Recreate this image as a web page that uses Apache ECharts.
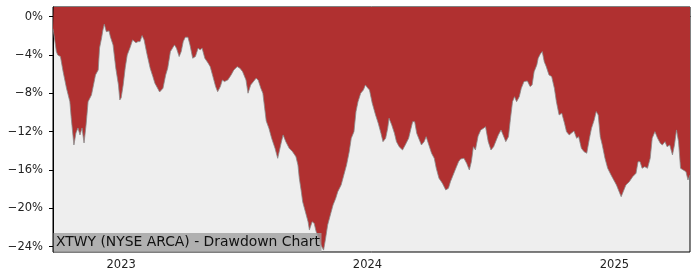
<!DOCTYPE html>
<html>
<head>
<meta charset="utf-8">
<script src="https://cdn.jsdelivr.net/npm/echarts@6/dist/echarts.min.js"></script>
<style>html,body{margin:0;padding:0;background:#fff}#c{width:700px;height:280px}</style>
</head>
<body>
<div id="c"></div>
<script>
const dates = [
'2022-09-22','2022-09-23','2022-09-27','2022-09-29','2022-10-03','2022-10-07','2022-10-12','2022-10-17','2022-10-19','2022-10-23',
'2022-10-26','2022-10-29','2022-11-01','2022-11-04','2022-11-07','2022-11-10','2022-11-13','2022-11-18','2022-11-21','2022-11-24',
'2022-11-28','2022-11-30','2022-12-03','2022-12-05','2022-12-07','2022-12-10','2022-12-14','2022-12-16','2022-12-20','2022-12-24',
'2022-12-28','2022-12-30','2023-01-01','2023-01-04','2023-01-07','2023-01-10','2023-01-14','2023-01-18','2023-01-20','2023-01-23',
'2023-01-26','2023-01-29','2023-02-01','2023-02-04','2023-02-08','2023-02-13','2023-02-17','2023-02-20','2023-02-27','2023-03-04',
'2023-03-08','2023-03-11','2023-03-15','2023-03-18','2023-03-21','2023-03-24','2023-03-28','2023-03-31','2023-04-03','2023-04-06',
'2023-04-10','2023-04-13','2023-04-17','2023-04-21','2023-04-25','2023-04-28','2023-05-01','2023-05-05','2023-05-10','2023-05-13',
'2023-05-17','2023-05-21','2023-05-24','2023-05-28','2023-05-31','2023-06-03','2023-06-08','2023-06-13','2023-06-17','2023-06-22',
'2023-06-26','2023-06-30','2023-07-05','2023-07-08','2023-07-12','2023-07-16','2023-07-20','2023-07-23','2023-07-27','2023-07-30',
'2023-08-04','2023-08-08','2023-08-12','2023-08-17','2023-08-21','2023-08-26','2023-08-29','2023-09-02','2023-09-07','2023-09-12',
'2023-09-17','2023-09-20','2023-09-22','2023-09-25','2023-09-27','2023-10-01','2023-10-05','2023-10-07','2023-10-11','2023-10-14',
'2023-10-17','2023-10-21','2023-10-24','2023-10-28','2023-10-31','2023-11-03','2023-11-07','2023-11-11','2023-11-15','2023-11-18',
'2023-11-23','2023-11-27','2023-12-01','2023-12-05','2023-12-08','2023-12-12','2023-12-15','2023-12-18','2023-12-22','2023-12-26',
'2023-12-29','2024-01-01','2024-01-04','2024-01-08','2024-01-13','2024-01-17','2024-01-21','2024-01-24','2024-01-28','2024-01-31',
'2024-02-02','2024-02-06','2024-02-10','2024-02-13','2024-02-17','2024-02-22','2024-02-26','2024-03-02','2024-03-05','2024-03-08',
'2024-03-11','2024-03-14','2024-03-18','2024-03-21','2024-03-25','2024-03-28','2024-04-01','2024-04-05','2024-04-09','2024-04-12',
'2024-04-16','2024-04-21','2024-04-26','2024-04-30','2024-05-03','2024-05-07','2024-05-11','2024-05-15','2024-05-18','2024-05-23',
'2024-05-27','2024-05-31','2024-06-03','2024-06-06','2024-06-09','2024-06-13','2024-06-17','2024-06-21','2024-06-24','2024-06-28',
'2024-07-02','2024-07-06','2024-07-09','2024-07-13','2024-07-17','2024-07-20','2024-07-24','2024-07-28','2024-07-31','2024-08-03',
'2024-08-06','2024-08-09','2024-08-13','2024-08-16','2024-08-20','2024-08-25','2024-08-29','2024-09-01','2024-09-04','2024-09-08',
'2024-09-10','2024-09-13','2024-09-16','2024-09-19','2024-09-22','2024-09-26','2024-09-30','2024-10-04','2024-10-07','2024-10-11',
'2024-10-15','2024-10-19','2024-10-22','2024-10-26','2024-10-29','2024-11-02','2024-11-06','2024-11-09','2024-11-13','2024-11-17',
'2024-11-21','2024-11-25','2024-11-28','2024-12-02','2024-12-05','2024-12-08','2024-12-11','2024-12-14','2024-12-18','2024-12-22',
'2024-12-27','2024-12-31','2025-01-04','2025-01-08','2025-01-11','2025-01-14','2025-01-18','2025-01-23','2025-01-28','2025-02-02',
'2025-02-05','2025-02-08','2025-02-11','2025-02-15','2025-02-19','2025-02-23','2025-02-26','2025-03-02','2025-03-06','2025-03-10',
'2025-03-13','2025-03-17','2025-03-20','2025-03-24','2025-03-28','2025-03-31','2025-04-03','2025-04-06','2025-04-09','2025-04-13',
'2025-04-17','2025-04-20','2025-04-23'
];
const drawdown = [
-1.30,-1.70,-3.65,-4.00,-4.17,-5.74,-7.47,-8.87,-10.57,-13.39,
-12.14,-11.61,-12.35,-11.61,-13.18,-11.30,-8.87,-8.17,-7.13,-6.08,
-5.56,-3.27,-2.22,-1.39,-0.79,-1.57,-1.49,-2.09,-2.95,-5.35,
-7.13,-8.69,-8.48,-7.13,-5.35,-4.00,-3.27,-2.43,-2.61,-2.74,
-2.61,-2.61,-1.98,-2.43,-3.82,-5.38,-6.26,-6.95,-7.86,-7.47,
-6.08,-5.38,-3.65,-3.30,-2.95,-3.30,-4.17,-3.65,-2.61,-2.15,
-2.15,-2.95,-4.34,-4.17,-3.30,-3.47,-3.30,-4.34,-4.86,-5.22,
-6.26,-7.30,-7.83,-7.30,-6.61,-6.78,-6.61,-6.08,-5.56,-5.22,
-5.38,-5.74,-6.61,-7.99,-7.13,-6.78,-6.43,-6.61,-7.47,-7.99,
-10.88,-11.65,-12.69,-13.73,-14.78,-13.21,-12.34,-13.04,-13.73,-14.09,
-14.61,-15.48,-16.86,-18.26,-19.31,-20.35,-21.39,-22.26,-21.39,-21.56,
-22.44,-23.12,-23.82,-24.35,-23.12,-21.74,-20.69,-19.65,-18.95,-18.26,
-17.56,-16.52,-15.48,-14.09,-12.69,-12.00,-9.91,-8.87,-7.99,-7.65,
-7.13,-7.41,-7.65,-9.01,-10.26,-11.12,-12.17,-13.04,-12.69,-11.65,
-10.60,-11.30,-12.17,-13.04,-13.57,-13.91,-13.39,-12.69,-11.82,-10.96,
-10.96,-12.17,-12.87,-13.39,-13.04,-12.52,-13.39,-14.25,-14.78,-15.82,
-16.86,-17.38,-18.08,-17.91,-17.22,-16.52,-15.82,-15.13,-14.85,-14.78,
-15.30,-16.00,-15.13,-13.57,-13.91,-12.45,-11.82,-11.65,-11.48,-13.04,
-13.91,-13.57,-13.04,-12.34,-11.82,-12.34,-13.04,-12.52,-10.60,-8.87,
-8.35,-8.87,-8.35,-7.47,-6.78,-6.71,-7.30,-7.13,-5.74,-5.04,
-4.34,-3.92,-3.65,-4.70,-5.22,-6.08,-6.26,-7.47,-8.87,-10.26,
-10.08,-11.12,-12.00,-12.34,-12.17,-11.93,-12.69,-12.52,-13.73,-14.09,
-14.25,-12.69,-11.65,-10.78,-9.91,-10.26,-12.52,-13.39,-14.78,-15.82,
-16.52,-17.04,-17.56,-18.26,-18.78,-18.26,-17.56,-17.22,-16.70,-16.34,
-15.13,-15.13,-15.82,-15.65,-15.82,-14.78,-12.69,-12.00,-12.69,-13.21,
-13.39,-13.04,-13.57,-13.39,-14.43,-13.39,-11.82,-13.04,-15.82,-16.00,
-16.17,-17.04,-16.52
];
const yTicks = [0, -4, -8, -12, -16, -20, -24];
const xTickLabels = ['2023', '2024', '2025'];
const titleText = 'XTWY (NYSE ARCA) - Drawdown Chart';

function toTs(s) {
  const p = s.split('-').map(Number);
  return new Date(p[0], p[1] - 1, p[2]).getTime();
}
const xTicks = xTickLabels.map(s => new Date(+s, 0, 1).getTime());
const seriesData = dates.map((d, i) => [toTs(d), drawdown[i]]);

const chart = echarts.init(document.getElementById('c'), null, {renderer: 'canvas'});
chart.setOption({
  animation: false,
  backgroundColor: '#ffffff',
  grid: {left: 53, right: 10, top: 7, bottom: 28, show: true, backgroundColor: '#eeeeee', borderColor: '#000', borderWidth: 1, containLabel: false},
  xAxis: {
    type: 'value',
    min: toTs(dates[0]),
    max: toTs(dates[dates.length - 1]),
    axisLine: {show: true, lineStyle: {color: '#000', width: 1}},
    axisTick: {show: true, length: 4, lineStyle: {color: '#000'}, customValues: xTicks},
    axisLabel: {customValues: xTicks, formatter: v => String(new Date(v).getFullYear()), color: '#222', fontFamily: 'DejaVu Sans', fontSize: 11.5, margin: 7},
    splitLine: {show: false}
  },
  yAxis: {
    type: 'value',
    min: -24.55, max: 1.0,
    axisLine: {show: true, lineStyle: {color: '#000', width: 1}},
    axisTick: {show: true, length: 4, lineStyle: {color: '#000'}, customValues: yTicks},
    axisLabel: {customValues: yTicks, formatter: v => (v < 0 ? '\u2212' : '') + Math.abs(v) + '%', color: '#222', fontFamily: 'DejaVu Sans', fontSize: 11.5, margin: 10},
    splitLine: {show: false}
  },
  series: [{
    type: 'line',
    data: seriesData,
    showSymbol: false,
    symbol: 'none',
    lineStyle: {color: '#8a8a8a', width: 0.8},
    areaStyle: {color: '#b03030', origin: 'end', opacity: 1},
    z: 2
  }],
  graphic: [
    {type: 'rect', shape: {x: 53.5, y: 233, width: 268, height: 19}, style: {fill: 'rgba(160,160,160,0.8)'}, z: 100},
    {type: 'text', x: 56, y: 242.5, style: {text: titleText, font: '13.9px "DejaVu Sans"', fill: '#111', verticalAlign: 'middle', align: 'left'}, z: 101}
  ]
});
</script>
</body>
</html>
